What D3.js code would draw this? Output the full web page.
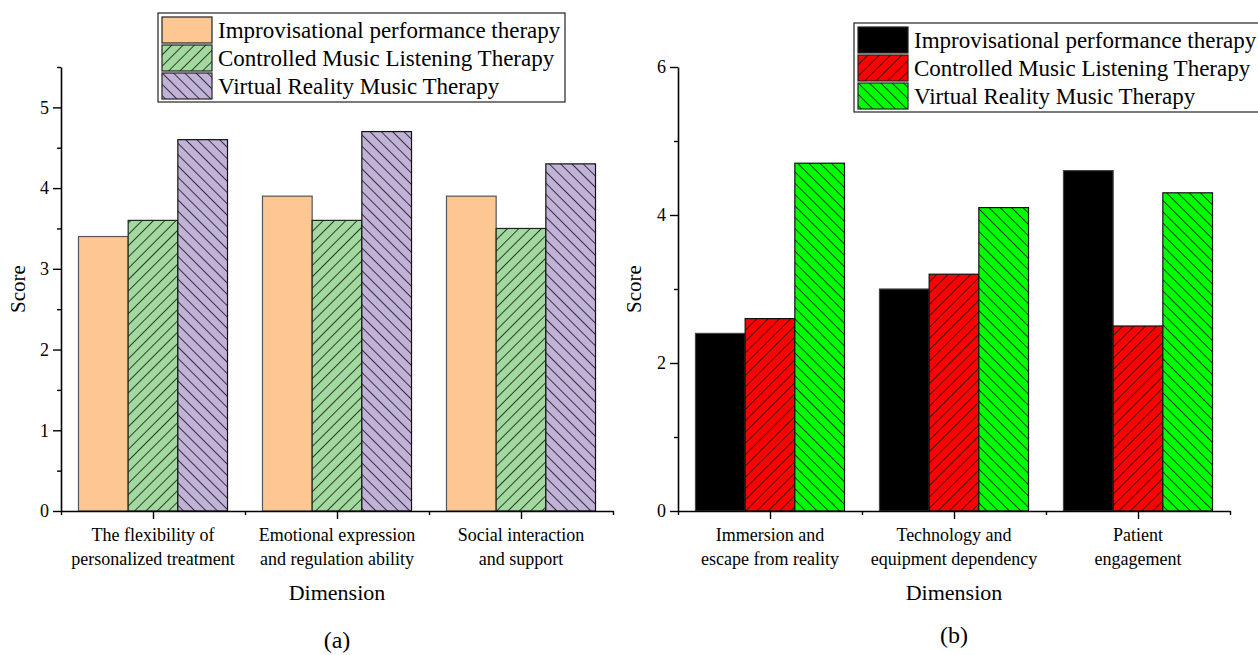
<!DOCTYPE html>
<html>
<head>
<meta charset="utf-8">
<script src="https://cdn.jsdelivr.net/npm/d3@7"></script>
<style>
  body { margin: 0; background: #fff; }
  text { font-family: "Liberation Serif", "DejaVu Serif", serif !important; fill: #000; }
</style>
</head>
<body>
<div id="chart"></div>
<script>
// data for panel (a)
let dimsA = [["The flexibility of", "personalized treatment"],
             ["Emotional expression", "and regulation ability"],
             ["Social interaction", "and support"]];
let improvA = [3.4, 3.9, 3.9];
let controlA = [3.6, 3.6, 3.5];
let vrA = [4.6, 4.7, 4.3];
let ticksA = [0, 1, 2, 3, 4, 5];
let minorA = [0.5, 1.5, 2.5, 3.5, 4.5, 5.5];

// data for panel (b)
let dimsB = [["Immersion and", "escape from reality"],
             ["Technology and", "equipment dependency"],
             ["Patient", "engagement"]];
let improvB = [2.4, 3.0, 4.6];
let controlB = [2.6, 3.2, 2.5];
let vrB = [4.7, 4.1, 4.3];
let ticksB = [0, 2, 4, 6];
let minorB = [1, 3, 5];

let seriesNames = ["Improvisational performance therapy",
                   "Controlled Music Listening Therapy",
                   "Virtual Reality Music Therapy"];

let svgWidth = 1258;
let svgHeight = 655;

let svg = d3.select("#chart")
  .append("svg")
  .attr("width", svgWidth)
  .attr("height", svgHeight)
  .style("font-family", "'Liberation Serif', serif");

let defs = svg.append("defs");

// hatch patterns: "/" uses rotate(45), "\" uses rotate(-45)
function hatch(id, color, angle) {
  let p = defs.append("pattern")
    .attr("id", id)
    .attr("patternUnits", "userSpaceOnUse")
    .attr("width", 8)
    .attr("height", 8)
    .attr("patternTransform", `rotate(${angle})`);
  p.append("rect").attr("width", 8).attr("height", 8).attr("fill", color);
  p.append("line")
    .attr("x1", 0).attr("y1", -1).attr("x2", 0).attr("y2", 9)
    .attr("stroke", "#111").attr("stroke-width", 1.6);
}
hatch("greenA", "#a1d99f", 45);
hatch("purpleA", "#c1b2d8", -45);
hatch("redB", "#ff0000", 45);
hatch("greenB", "#00ff00", -45);

function drawPanel(cfg) {
  let g = svg.append("g");

  let x0 = d3.scaleBand()
    .domain(d3.range(cfg.dims.length))
    .range([cfg.left, cfg.right])
    .paddingInner(0.19)
    .paddingOuter(0.095);

  let x1 = d3.scaleBand()
    .domain(d3.range(cfg.series.length))
    .range([0, x0.bandwidth()]);

  let y = d3.scaleLinear()
    .domain([0, cfg.yMax])
    .range([cfg.bottom, cfg.top]);

  // bars
  cfg.series.forEach(function(vals, si) {
    g.selectAll(null)
      .data(vals)
      .enter()
      .append("rect")
      .attr("x", (d, i) => x0(i) + x1(si))
      .attr("y", d => y(d))
      .attr("width", x1.bandwidth())
      .attr("height", d => y(0) - y(d))
      .attr("fill", cfg.fills[si])
      .attr("stroke", cfg.strokes[si])
      .attr("stroke-width", 1.2);
  });

  // y axis
  let yAxis = g.append("g")
    .attr("transform", `translate(${cfg.left},0)`)
    .call(d3.axisLeft(y).tickValues(cfg.ticks).tickFormat(d3.format("d"))
      .tickSize(8).tickSizeOuter(0).tickPadding(4));
  g.append("g")
    .attr("transform", `translate(${cfg.left},0)`)
    .call(d3.axisLeft(y).tickValues(cfg.minor).tickSize(4).tickSizeOuter(0).tickFormat(""))
    .select(".domain").remove();
  yAxis.selectAll("text").style("font-size", "18px");

  // x axis: major ticks at category centres, minor at band edges
  let xs = d3.scaleLinear().domain([0, cfg.dims.length]).range([cfg.left, cfg.right]);
  g.append("g")
    .attr("transform", `translate(0,${cfg.bottom})`)
    .call(d3.axisBottom(xs).tickValues(d3.range(cfg.dims.length).map(i => i + 0.5))
      .tickSize(8).tickSizeOuter(0).tickFormat(""));
  g.append("g")
    .attr("transform", `translate(0,${cfg.bottom})`)
    .call(d3.axisBottom(xs).tickValues(d3.range(cfg.dims.length + 1)).tickSize(4).tickFormat(""))
    .select(".domain").remove();

  g.selectAll(".domain").attr("stroke-width", 1.6);
  g.selectAll(".tick line").attr("stroke-width", 1.4);

  // category labels
  cfg.dims.forEach(function(lines, i) {
    let t = g.append("text")
      .attr("text-anchor", "middle")
      .attr("x", xs(i + 0.5))
      .attr("y", cfg.bottom + 30)
      .style("font-size", "18px");
    lines.forEach(function(line, li) {
      t.append("tspan").attr("x", xs(i + 0.5)).attr("dy", li === 0 ? 0 : 24).text(line);
    });
  });

  // axis titles
  g.append("text")
    .attr("text-anchor", "middle")
    .attr("x", (cfg.left + cfg.right) / 2)
    .attr("y", cfg.bottom + 89)
    .style("font-size", "22px")
    .text("Dimension");

  g.append("text")
    .attr("text-anchor", "middle")
    .attr("transform", `translate(${cfg.scoreX},${(cfg.top + cfg.bottom) / 2}) rotate(-90)`)
    .style("font-size", "21px")
    .text("Score");

  g.append("text")
    .attr("text-anchor", "middle")
    .attr("x", (cfg.left + cfg.right) / 2)
    .attr("y", cfg.captionY)
    .style("font-size", "24px")
    .text(cfg.caption);

  // legend
  let leg = g.append("g").attr("transform", `translate(${cfg.legX},${cfg.legY})`);
  leg.append("rect")
    .attr("width", cfg.legW)
    .attr("height", 89)
    .attr("fill", "#fff")
    .attr("stroke", "#222")
    .attr("stroke-width", 1.2);
  seriesNames.forEach(function(name, i) {
    leg.append("rect")
      .attr("x", 4)
      .attr("y", 4 + i * 28)
      .attr("width", 50)
      .attr("height", 26)
      .attr("fill", cfg.fills[i])
      .attr("stroke", "#222")
      .attr("stroke-width", 1.2);
    leg.append("text")
      .attr("x", 60)
      .attr("y", 25 + i * 28)
      .style("font-size", "23px")
      .text(name);
  });
}

drawPanel({
  dims: dimsA,
  series: [improvA, controlA, vrA],
  fills: ["#fdc794", "url(#greenA)", "url(#purpleA)"],
  strokes: ["#555", "#222", "#111"],
  ticks: ticksA,
  minor: minorA,
  yMax: 5.5,
  left: 61, right: 613, top: 67, bottom: 511,
  scoreX: 25,
  caption: "(a)",
  captionY: 648,
  legX: 158, legY: 13, legW: 407
});

drawPanel({
  dims: dimsB,
  series: [improvB, controlB, vrB],
  fills: ["#000", "url(#redB)", "url(#greenB)"],
  strokes: ["#444", "#111", "#111"],
  ticks: ticksB,
  minor: minorB,
  yMax: 6,
  left: 678, right: 1230, top: 67, bottom: 511,
  scoreX: 641,
  caption: "(b)",
  captionY: 643,
  legX: 854, legY: 23, legW: 420
});
</script>
</body>
</html>
